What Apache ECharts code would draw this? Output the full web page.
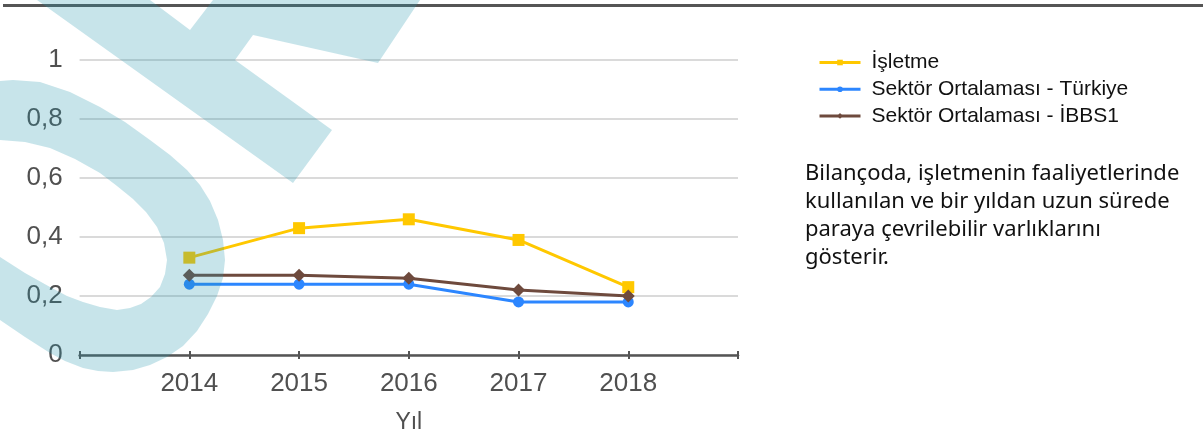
<!DOCTYPE html>
<html><head><meta charset="utf-8">
<script src="https://cdn.jsdelivr.net/npm/echarts@6/dist/echarts.min.js"></script>
<style>html,body{margin:0;padding:0;background:#fff;overflow:hidden}#c{width:1203px;height:435px}</style>
</head><body><div id="c"></div>
<script>
const years = [2014, 2015, 2016, 2017, 2018];
const isletme = [0.33, 0.43, 0.46, 0.39, 0.23];
const turkiye = [0.24, 0.24, 0.24, 0.18, 0.18];
const ibbs1 = [0.27, 0.27, 0.26, 0.22, 0.20];
const seriesNames = ['İşletme', 'Sektör Ortalaması - Türkiye', 'Sektör Ortalaması - İBBS1'];
const yTicks = [0, 0.2, 0.4, 0.6, 0.8, 1];
const description = ['Bilançoda, işletmenin faaliyetlerinde', 'kullanılan ve bir yıldan uzun sürede', 'paraya çevrilebilir varlıklarını', 'gösterir.'];

const pair = arr => years.map((y, i) => [y, arr[i]]);
const wm = 'rgba(40,150,175,0.26)';
const axisFont = 'Liberation Sans';
const xBase = { type: 'value', min: 2013, max: 2019, interval: 1, splitLine: { show: false } };
const chart = echarts.init(document.getElementById('c'));
chart.setOption({
  animation: false,
  grid: { left: 79.6, right: 465, top: 60, bottom: 80, outerBoundsMode: 'none' },
  legend: {
    orient: 'vertical', left: 818, top: 52, padding: 0, itemWidth: 41, itemHeight: 7, itemGap: 5.7,
    lineStyle: { width: 3 },
    textStyle: { fontFamily: axisFont, fontSize: 21, color: '#111', lineHeight: 21, padding: [0, 0, 0, 6] },
    data: seriesNames
  },
  xAxis: [
    Object.assign({}, xBase, {
      name: 'Yıl', nameLocation: 'middle', nameGap: 56,
      nameTextStyle: { fontFamily: axisFont, fontSize: 23, color: '#505050' },
      axisLine: { lineStyle: { color: '#555', width: 2.5 } },
      axisTick: { show: true, length: 4, lineStyle: { color: '#555', width: 2 } },
      axisLabel: { margin: 16, fontFamily: axisFont, fontSize: 26, color: '#505050',
        formatter: v => years.indexOf(v) >= 0 ? String(v) : '' }
    }),
    Object.assign({}, xBase, {
      position: 'bottom',
      axisLine: { show: false },
      axisTick: { show: true, inside: true, length: 4, lineStyle: { color: '#555', width: 2 } },
      axisLabel: { show: false }
    })
  ],
  yAxis: {
    type: 'value', min: 0, max: 1, interval: 0.2,
    axisLine: { show: false }, axisTick: { show: false },
    splitLine: { lineStyle: { color: '#dadada', width: 2 } },
    axisLabel: { margin: 17, fontFamily: axisFont, fontSize: 26, color: '#505050',
      formatter: v => { const t = yTicks.find(k => Math.abs(k - v) < 1e-9); return t === undefined ? '' : String(+t.toFixed(1)).replace('.', ','); } }
  },
  series: [
    { name: seriesNames[0], type: 'line', data: pair(isletme), symbol: 'rect', symbolSize: 12,
      lineStyle: { color: '#ffc800', width: 3 }, itemStyle: { color: '#ffc800' } },
    { name: seriesNames[1], type: 'line', data: pair(turkiye), symbol: 'circle', symbolSize: 11,
      lineStyle: { color: '#2c86ff', width: 3 }, itemStyle: { color: '#2c86ff' } },
    { name: seriesNames[2], type: 'line', data: pair(ibbs1), symbol: 'diamond', symbolSize: 13,
      lineStyle: { color: '#6e4a3d', width: 3 }, itemStyle: { color: '#6e4a3d' } }
  ],
  graphic: [
    { type: 'line', z: 50, shape: { x1: 3, y1: 5.5, x2: 1203, y2: 5.5 }, style: { stroke: '#555', lineWidth: 3 } },
    { type: 'text', z: 50, left: 805, top: 160,
      style: { text: description.join('\n'), fontFamily: 'Noto Sans', fontSize: 22, lineHeight: 27.8, fill: '#111' } },
    { type: 'polygon', z: 100, silent: true,
      shape: { points: [[37,0],[150,0],[190,30],[213,0],[420,0],[378,63],[253,35],[235,60],[332,130],[293,183]] },
      style: { fill: wm } },
    { type: 'polygon', z: 100, silent: true,
      shape: { points: [[-30,84],[0,81],[13,80],[40,82],[70,92],[100,107],[125,122],[150,140],[170,155],[187,170],[200,185],[210,201],[218,220],[223,240],[225,260],[223,278],[217,296],[208,314],[197,331],[183,346],[167,357],[150,365],[133,370],[113,372],[98,371],[83,368],[65,361],[50,353],[25,337],[0,320],[-30,302],
        [-30,250],[0,257],[25,273],[50,287],[67,296],[83,302],[100,307],[117,310],[130,308],[141,304],[151,297],[160,287],[165,274],[167,260],[164,243],[157,227],[146,212],[133,199],[117,186],[100,173],[75,159],[50,148],[25,142],[0,140],[-30,137]] },
      style: { fill: wm } }
  ]
});
</script></body></html>
